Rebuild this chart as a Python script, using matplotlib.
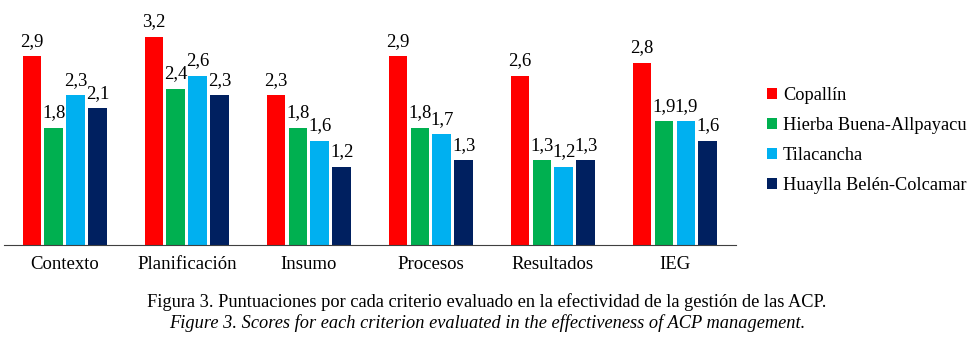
import matplotlib
matplotlib.use("Agg")
import matplotlib.pyplot as plt
import numpy as np

categories = ["Contexto", "Planificación", "Insumo", "Procesos", "Resultados", "IEG"]
series_names = ["Copallín", "Hierba Buena-Allpayacu", "Tilacancha", "Huaylla Belén-Colcamar"]
copallin = [2.9, 3.2, 2.3, 2.9, 2.6, 2.8]
hierba = [1.8, 2.4, 1.8, 1.8, 1.3, 1.9]
tilacancha = [2.3, 2.6, 1.6, 1.7, 1.2, 1.9]
huaylla = [2.1, 2.3, 1.2, 1.3, 1.3, 1.6]
colors = ["#FF0000", "#00B050", "#00B0F0", "#002060"]

plt.rcParams['font.family'] = ['Liberation Serif', 'DejaVu Serif']

fig = plt.figure(figsize=(9.8, 3.5), dpi=100)
ax = fig.add_axes([0.004, 0.30, 0.747, 0.66])

x = np.arange(len(categories))
step = 0.18
width = 0.155
allvals = [copallin, hierba, tilacancha, huaylla]
for i, (vals, name, c) in enumerate(zip(allvals, series_names, colors)):
    pos = x + (i - 1.5) * step
    bars = ax.bar(pos, vals, width, color=c, label=name)
    for b, v in zip(bars, vals):
        ax.text(b.get_x() + b.get_width() / 2, v + 0.1, f"{v:.1f}".replace(".", ","),
                ha="center", va="bottom", fontsize=13.5)

ax.set_xlim(-0.5, len(categories) - 0.5)
ax.set_ylim(0, 3.55)
ax.set_xticks(x)
ax.set_xticklabels(categories, fontsize=13.5)
ax.tick_params(axis='x', length=0, pad=8)
ax.set_yticks([])
for s in ["top", "right", "left"]:
    ax.spines[s].set_visible(False)
ax.spines["bottom"].set_color("#404040")

leg = fig.legend(loc="upper left", bbox_to_anchor=(0.766, 0.798), frameon=False,
                 fontsize=13.2, handlelength=0.55, handleheight=0.55, handletextpad=0.3,
                 labelspacing=0.7)

fig.text(0.497, 0.137, "Figura 3. Puntuaciones por cada criterio evaluado en la efectividad de la gestión de las ACP.",
         ha="center", va="center", fontsize=13.2)
fig.text(0.497, 0.077, "Figure 3. Scores for each criterion evaluated in the effectiveness of ACP management.",
         ha="center", va="center", fontsize=13.2, style="italic")

fig.savefig("out.png", dpi=100)
